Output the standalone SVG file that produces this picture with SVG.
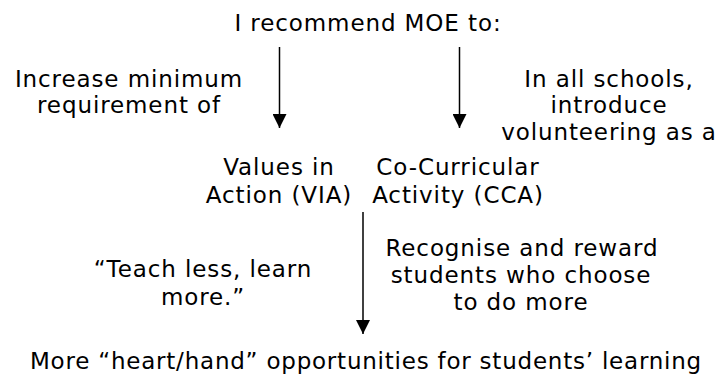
<svg xmlns="http://www.w3.org/2000/svg" width="718" height="378" viewBox="0 0 718 378">
  <style>
    text { font-family: "DejaVu Sans", Verdana, sans-serif; font-size: 23px; letter-spacing: 0.9px; fill: #000; text-anchor: middle; }
    #outcome text { letter-spacing: 0.78px; }
    .conn line { stroke: #000; stroke-width: 1.5; }
  </style>
  <defs>
    <marker id="head" viewBox="0 0 14 14" refX="14" refY="7" markerWidth="14" markerHeight="14" markerUnits="userSpaceOnUse" orient="auto">
      <path d="M0,0 L14,7 L0,14 Z" fill="#000"/>
    </marker>
  </defs>
  <rect width="718" height="378" fill="#fff"/>

  <g id="title">
    <text x="368" y="31">I recommend MOE to:</text>
  </g>
  <g id="increase">
    <text x="129" y="87">Increase minimum</text>
    <text x="129" y="113">requirement of</text>
  </g>
  <g id="volunteer">
    <text x="609" y="87">In all schools,</text>
    <text x="609" y="113">introduce</text>
    <text x="609" y="140">volunteering as a</text>
  </g>
  <g id="via">
    <text x="279" y="175">Values in</text>
    <text x="279" y="203">Action (VIA)</text>
  </g>
  <g id="cca">
    <text x="458" y="175">Co-Curricular</text>
    <text x="458" y="203">Activity (CCA)</text>
  </g>
  <g id="teach">
    <text x="203" y="277">“Teach less, learn</text>
    <text x="203" y="305">more.”</text>
  </g>
  <g id="reward">
    <text x="522" y="256">Recognise and reward</text>
    <text x="521" y="283">students who choose</text>
    <text x="521" y="310">to do more</text>
  </g>
  <g id="outcome">
    <text x="366" y="369">More “heart/hand” opportunities for students’ learning</text>
  </g>

  <g class="conn" id="connectors">
    <line x1="279.5" y1="47" x2="279.5" y2="128" marker-end="url(#head)"/>
    <line x1="459.5" y1="47" x2="459.5" y2="128" marker-end="url(#head)"/>
    <line x1="363" y1="212" x2="363" y2="334" marker-end="url(#head)"/>
  </g>
</svg>
